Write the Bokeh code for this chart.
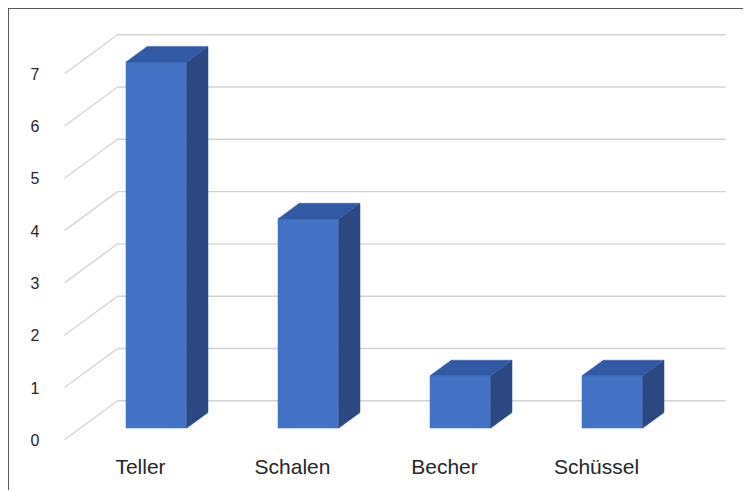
from bokeh.plotting import figure
from bokeh.models import FixedTicker
from bokeh.embed import file_html
from bokeh.resources import INLINE

# ---- data ----
categories = ["Teller", "Schalen", "Becher", "Schüssel"]
counts = [7, 4, 1, 1]
y_ticks = [0, 1, 2, 3, 4, 5, 6, 7]

# ---- pseudo-3D geometry (in data units) ----
DX = 0.3487   # depth shift along x (category units)
DY = 0.7457   # depth shift along y (value units)
HW = 0.2      # half width of a bar
D_FRONT, D_BACK = 0.3, 0.7  # bar depth span (0 = front, 1 = back wall)

FRONT_C = "#4472c4"
TOP_C = "#3259a3"
SIDE_C = "#2b4882"
GRID_C = "#d4d4d4"

p = figure(width=735, height=482, output_backend="svg", toolbar_location=None,
           x_range=(-0.0526, 4.4276), y_range=(-0.0707, 8.2275),
           min_border_left=47, min_border_right=7, min_border_top=0,
           min_border_bottom=48)
p.grid.visible = False
p.outline_line_color = None
p.background_fill_color = "white"
p.border_fill_color = "white"
p.styles = {"margin-left": "8px", "margin-top": "8px",
            "border-left": "1px solid #595959", "border-top": "1px solid #595959"}

# gridlines: diagonal on side wall + horizontal on back wall
n = len(categories)
xs, ys = [], []
for v in y_ticks:
    xs.append([0, DX, n + DX])
    ys.append([v, v + DY, v + DY])
p.multi_line(xs, ys, line_color=GRID_C, line_width=1.4)

# bars
ox1, oy1 = D_FRONT * DX, D_FRONT * DY
ox2, oy2 = D_BACK * DX, D_BACK * DY
left = [i + 0.5 - HW + ox1 for i in range(n)]
right = [i + 0.5 + HW + ox1 for i in range(n)]
p.quad(left=left, right=right, bottom=[oy1] * n, top=[h + oy1 for h in counts],
       fill_color=FRONT_C, line_color=FRONT_C, line_width=0.5)

side_xs, side_ys, top_xs, top_ys = [], [], [], []
for i, h in enumerate(counts):
    L = i + 0.5 - HW
    R = i + 0.5 + HW
    side_xs.append([R + ox1, R + ox2, R + ox2, R + ox1])
    side_ys.append([oy1, oy2, h + oy2, h + oy1])
    top_xs.append([L + ox1, R + ox1, R + ox2, L + ox2])
    top_ys.append([h + oy1, h + oy1, h + oy2, h + oy2])
p.patches(side_xs, side_ys, fill_color=SIDE_C, line_color=SIDE_C, line_width=0.5)
p.patches(top_xs, top_ys, fill_color=TOP_C, line_color=TOP_C, line_width=0.5)

# y axis
ya = p.yaxis[0]
ya.ticker = FixedTicker(ticks=y_ticks)
ya.axis_line_color = None
ya.major_tick_line_color = None
ya.minor_tick_line_color = None
ya.major_label_standoff = 11
ya.major_label_text_font = "Liberation Sans"
ya.major_label_text_font_size = "16px"
ya.major_label_text_color = "#262626"

# x axis with category labels at front-edge centres
xa = p.xaxis[0]
xa.ticker = FixedTicker(ticks=[i + 0.5 for i in range(n)])
xa.major_label_overrides = {i + 0.5: c for i, c in enumerate(categories)}
xa.axis_line_color = None
xa.major_tick_line_color = None
xa.minor_tick_line_color = None
xa.major_label_standoff = 5
xa.major_label_text_font = "Liberation Sans"
xa.major_label_text_font_size = "21px"
xa.major_label_text_color = "#262626"

open("out.html", "w").write(file_html(p, INLINE))
